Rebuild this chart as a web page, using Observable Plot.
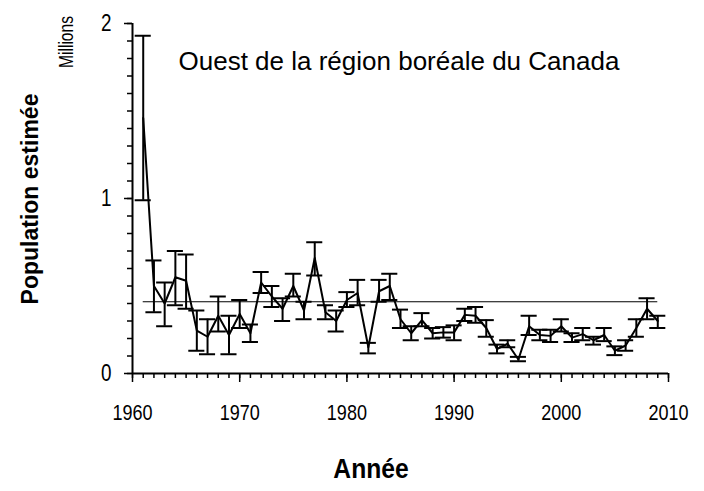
<!DOCTYPE html>
<html>
<head>
<meta charset="utf-8">
<script src="https://cdn.jsdelivr.net/npm/d3@7"></script>
<script src="https://cdn.jsdelivr.net/npm/@observablehq/plot@0.6"></script>
<style>
  html, body { margin: 0; padding: 0; background: #fff; }
  #wrap { position: relative; width: 704px; height: 491px; }
  .ov { position: absolute; color: #000; white-space: nowrap; }
  #ylab { left: 30px; top: 199px; transform: translate(-50%, -50%) rotate(-90deg); font: bold 23px "Liberation Sans", Arial, sans-serif; }
  #units { left: 66px; top: 42px; transform: translate(-50%, -50%) rotate(-90deg) scaleX(0.78); font: 20px "Liberation Sans", Arial, sans-serif; }
  #xlab { left: 371px; top: 469px; transform: translate(-50%, -50%) scaleX(0.88); font: bold 28px "Liberation Sans", Arial, sans-serif; }
</style>
</head>
<body>
<div id="wrap">
  <div id="chart"></div>
  <div class="ov" id="ylab">Population estimée</div>
  <div class="ov" id="units">Millions</div>
  <div class="ov" id="xlab">Année</div>
</div>
<script>
const title = "Ouest de la région boréale du Canada";
const years = [1961,1962,1963,1964,1965,1966,1967,1968,1969,1970,
  1971,1972,1973,1974,1975,1976,1977,1978,1979,1980,
  1981,1982,1983,1984,1985,1986,1987,1988,1989,1990,
  1991,1992,1993,1994,1995,1996,1997,1998,1999,2000,
  2001,2002,2003,2004,2005,2006,2007,2008,2009];
const estimate = [1.46,0.50,0.40,0.55,0.53,0.245,0.21,0.33,0.22,0.34,
  0.23,0.52,0.44,0.37,0.50,0.36,0.66,0.35,0.30,0.42,
  0.46,0.15,0.47,0.50,0.31,0.23,0.305,0.23,0.235,0.235,
  0.335,0.33,0.26,0.14,0.17,0.08,0.27,0.22,0.215,0.27,
  0.205,0.225,0.19,0.22,0.13,0.16,0.26,0.37,0.30];
const lower = [0.99,0.35,0.27,0.39,0.37,0.13,0.11,0.24,0.11,0.26,
  0.18,0.46,0.38,0.30,0.44,0.31,0.56,0.31,0.24,0.38,
  0.39,0.115,0.41,0.42,0.26,0.19,0.27,0.20,0.205,0.19,
  0.30,0.29,0.21,0.115,0.15,0.07,0.22,0.19,0.18,0.24,
  0.18,0.19,0.165,0.185,0.105,0.13,0.21,0.31,0.26];
const upper = [1.93,0.646,0.52,0.70,0.68,0.36,0.31,0.44,0.33,0.42,
  0.28,0.58,0.50,0.43,0.57,0.41,0.75,0.39,0.36,0.465,
  0.535,0.175,0.535,0.57,0.365,0.27,0.345,0.26,0.265,0.275,
  0.37,0.38,0.305,0.165,0.19,0.095,0.33,0.25,0.25,0.31,
  0.23,0.26,0.21,0.26,0.155,0.19,0.31,0.43,0.33];
const meanLevel = 0.41;
const xMajorTicks = [1960,1970,1980,1990,2000,2010];
const yMajorTicks = [0,1,2];

const data = years.map((year, i) => ({year, value: estimate[i], lo: lower[i], hi: upper[i]}));
const xMinorTicks = d3.range(xMajorTicks[0], xMajorTicks[xMajorTicks.length - 1] + 1, 1);
const yMinorTicks = d3.range(0, 20.5, 1).map(v => v / 10);
const capHalf = 0.75;

const chart = Plot.plot({
  width: 704,
  height: 491,
  marginLeft: 132,
  marginRight: 36,
  marginTop: 23,
  marginBottom: 118,
  style: {fontFamily: "'Liberation Sans', Arial, sans-serif", fontSize: "18px", color: "#000", background: "#fff", overflow: "visible"},
  x: {domain: [1960, 2010], axis: null},
  y: {domain: [0, 2], axis: null},
  marks: [
    Plot.axisX({ticks: xMinorTicks, tickSize: 5, tickFormat: () => "", label: null, strokeWidth: 1.5}),
    Plot.axisX({ticks: xMajorTicks, tickSize: 9, tickPadding: 22, tickFormat: d => String(d), label: null, strokeWidth: 1.5, fontSize: 22}),
    Plot.axisY({ticks: yMinorTicks, tickSize: 5, tickFormat: () => "", label: null, strokeWidth: 1.5}),
    Plot.axisY({ticks: yMajorTicks, tickSize: 8, tickPadding: 13, tickFormat: d => String(d), label: null, strokeWidth: 1.5, fontSize: 23}),
    Plot.ruleX([xMajorTicks[0]], {strokeWidth: 2}),
    Plot.ruleY([0], {strokeWidth: 2}),
    Plot.ruleY([meanLevel], {x1: years[0], x2: years[years.length - 1], strokeWidth: 1.2}),
    Plot.ruleX(data, {x: "year", y1: "lo", y2: "hi", strokeWidth: 2}),
    Plot.ruleY(data, {y: "lo", x1: d => d.year - capHalf, x2: d => d.year + capHalf, strokeWidth: 2}),
    Plot.ruleY(data, {y: "hi", x1: d => d.year - capHalf, x2: d => d.year + capHalf, strokeWidth: 2}),
    Plot.line(data, {x: "year", y: "value", strokeWidth: 2, stroke: "#000"}),
    Plot.text([title], {frameAnchor: "top-left", dx: 46, dy: 28, textAnchor: "start", fontSize: 26, fill: "#000"})
  ]
});
document.getElementById("chart").appendChild(chart);
// condense tick label glyphs horizontally (narrow-font look)
d3.select(chart).selectAll('[aria-label="x-axis tick label"] text, [aria-label="y-axis tick label"] text')
  .attr("transform", function() { return (this.getAttribute("transform") || "") + " scale(0.82,1)"; });
</script>
</body>
</html>
